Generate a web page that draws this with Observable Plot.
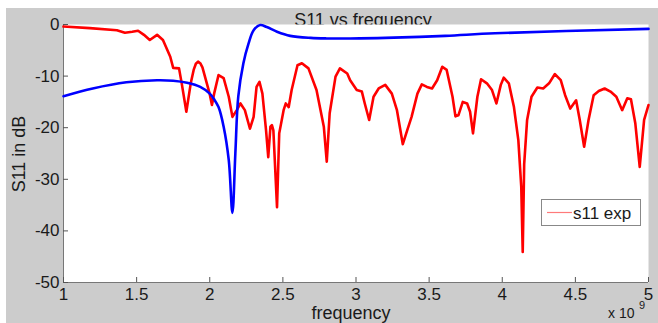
<!DOCTYPE html>
<html><head><meta charset="utf-8">
<script src="https://cdn.jsdelivr.net/npm/d3@7"></script>
<script src="https://cdn.jsdelivr.net/npm/@observablehq/plot@0.6"></script>
<style>html,body{margin:0;padding:0;background:#fff;} svg{display:block;}</style>
</head><body><div id="chart"></div>
<script>
// ---- data (frequency in units of 1e9 Hz, S11 in dB) ----
const redFreq = [1.00,1.18,1.365,1.42,1.47,1.51,1.55,1.59,1.64,1.68,1.73,1.75,1.79,1.81,1.84,1.87,1.89,1.905,1.92,1.935,1.95,1.98,2.0,2.015,2.03,2.06,2.095,2.13,2.155,2.185,2.21,2.24,2.275,2.30,2.32,2.34,2.36,2.385,2.40,2.415,2.425,2.435,2.46,2.475,2.505,2.52,2.54,2.56,2.60,2.63,2.675,2.73,2.78,2.80,2.82,2.86,2.89,2.94,2.96,3.005,3.04,3.06,3.09,3.12,3.155,3.20,3.245,3.28,3.32,3.35,3.38,3.42,3.45,3.485,3.52,3.555,3.59,3.62,3.66,3.68,3.70,3.73,3.76,3.78,3.80,3.83,3.855,3.895,3.93,3.96,3.99,4.01,4.045,4.08,4.11,4.13,4.14,4.15,4.17,4.20,4.24,4.28,4.32,4.36,4.40,4.43,4.465,4.505,4.53,4.56,4.59,4.625,4.66,4.70,4.74,4.78,4.82,4.855,4.88,4.91,4.94,4.97,5.0];
const redDb = [-0.4,-0.7,-1.1,-1.6,-1.4,-1.2,-2.0,-3.0,-2.0,-3.0,-6.25,-8.4,-8.5,-11.7,-16.9,-11.4,-8.8,-7.6,-7.2,-7.5,-8.3,-11.4,-13.5,-15.6,-13.4,-9.8,-10.4,-14.0,-17.9,-16.6,-15.3,-16.6,-20.2,-17.9,-12.1,-11.1,-13.4,-20.5,-25.7,-19.8,-19.5,-20.5,-35.4,-21.1,-16.6,-15.3,-16.0,-12.7,-7.9,-7.5,-8.5,-12.7,-19.8,-26.6,-17.2,-10.1,-8.5,-9.5,-10.8,-12.7,-13.0,-15.3,-18.5,-14.0,-12.4,-11.7,-13.4,-16.6,-23.2,-20.5,-17.9,-13.4,-11.6,-12.1,-12.4,-10.8,-8.2,-8.8,-14.0,-17.8,-17.6,-15.0,-15.3,-16.9,-21.1,-14.0,-10.6,-11.4,-12.7,-15.3,-11.7,-10.3,-11.4,-16.0,-22.4,-31.5,-44.1,-27.0,-18.5,-14.0,-12.2,-12.4,-11.4,-9.6,-10.8,-13.7,-16.3,-14.7,-18.5,-23.7,-18.5,-13.7,-12.9,-12.4,-13.0,-14.0,-16.6,-14.3,-14.5,-19.2,-27.6,-18.5,-15.6];
const blueFreq = [1.0,1.2,1.43,1.64,1.75,1.845,1.935,2.0,2.03,2.06,2.095,2.13,2.155,2.175,2.195,2.23,2.265,2.30,2.345,2.39,2.46,2.55,2.69,2.80,2.96,3.2,3.61,3.95,5.0];
const blueDb = [-13.9,-12.4,-11.2,-10.8,-10.9,-11.3,-12.1,-13.4,-14.5,-16.0,-19.8,-26.3,-36.5,-25.0,-14.0,-7.5,-3.7,-1.1,-0.1,-0.5,-1.4,-2.2,-2.6,-2.7,-2.7,-2.6,-2.2,-1.7,-0.85];
const xTicks = [1,1.5,2,2.5,3,3.5,4,4.5,5];
const yTicks = [-50,-40,-30,-20,-10,0];
const xDomain = [1,5];
const yDomain = [-50,0];
const titleText = "S11 vs frequency";
const xLabelText = "frequency";
const yLabelText = "S11 in dB";
const legendText = "s11 exp";
const expBase = "x 10";
const expPower = "9";

const red = redFreq.map((f,i)=>({f, db: redDb[i]}));
const blue = blueFreq.map((f,i)=>({f, db: blueDb[i]}));
const FONT = "'Liberation Sans', Arial, Helvetica, sans-serif";

const chart = Plot.plot({
  width: 658, height: 323,
  marginLeft: 63, marginRight: 10, marginTop: 24, marginBottom: 41,
  style: {background: "transparent", fontFamily: FONT, fontSize: "17px", color: "#1a1a1a", overflow: "hidden"},
  x: {domain: xDomain, label: null},
  y: {domain: yDomain, label: null},
  marks: [
    Plot.frame({fill: "white", stroke: null}),
    Plot.ruleX([xDomain[0]], {stroke: "#777", strokeWidth: 1}),
    Plot.ruleY([yDomain[0]], {stroke: "#777", strokeWidth: 1}),
    Plot.axisX({ticks: xTicks, tickSize: -5, tickPadding: 10, tickFormat: d => String(d), label: null, stroke: "#555", fill: "#1a1a1a"}),
    Plot.axisY({ticks: yTicks, tickSize: -5, tickPadding: 9, tickFormat: d => String(d), label: null, stroke: "#555", fill: "#1a1a1a"}),
    Plot.line(red, {x: "f", y: "db", stroke: "#ff0000", strokeWidth: 2.6, curve: "linear"}),
    Plot.line(blue, {x: "f", y: "db", stroke: "#0000ff", strokeWidth: 2.6, curve: "catmull-rom"})
  ]
});
document.getElementById("chart").appendChild(chart);

const svg = d3.select(chart);
const bg = svg.insert("g", ":first-child");
bg.append("rect").attr("x", 6).attr("y", 8).attr("width", 652).attr("height", 315).attr("fill", "#cccccc");
bg.append("text").attr("x", 363).attr("y", 26).attr("text-anchor", "middle")
  .attr("font-family", FONT).attr("font-size", 18).attr("fill", "#1a1a1a").text(titleText);

const fg = svg.append("g").attr("font-family", FONT).attr("fill", "#1a1a1a");
fg.append("text").attr("x", 351).attr("y", 319).attr("text-anchor", "middle").attr("font-size", 18).text(xLabelText);
fg.append("text").attr("transform", "translate(25,154) rotate(-90)").attr("text-anchor", "middle").attr("font-size", 18).text(yLabelText);
fg.append("text").attr("x", 608).attr("y", 318).attr("text-anchor", "start").attr("font-size", 14).text(expBase);
fg.append("text").attr("x", 639).attr("y", 309).attr("text-anchor", "start").attr("font-size", 11).text(expPower);

const lg = svg.append("g");
lg.append("rect").attr("x", 541.5).attr("y", 199.5).attr("width", 99).attr("height", 26).attr("fill", "white").attr("stroke", "#888");
lg.append("line").attr("x1", 547).attr("x2", 572).attr("y1", 212.5).attr("y2", 212.5).attr("stroke", "#ff7a7a").attr("stroke-width", 1.2);
lg.append("text").attr("x", 573).attr("y", 219).attr("text-anchor", "start").attr("font-family", FONT).attr("font-size", 17).attr("fill", "#1a1a1a").text(legendText);
</script>
</body></html>
